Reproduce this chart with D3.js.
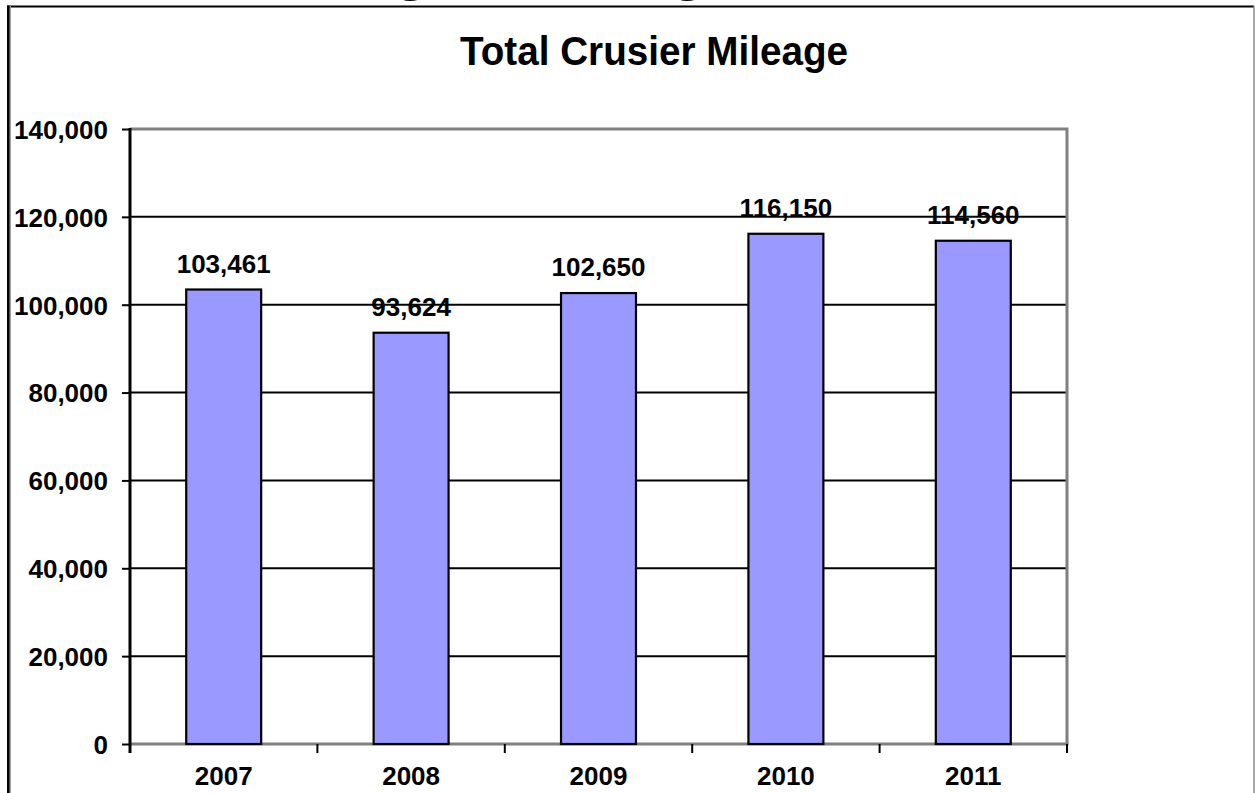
<!DOCTYPE html>
<html>
<head>
<meta charset="utf-8">
<script src="https://cdn.jsdelivr.net/npm/d3@7"></script>
<style>
  html, body { margin: 0; padding: 0; background: #ffffff; }
  svg { display: block; }
</style>
</head>
<body>
<svg id="chart" width="1255" height="793"></svg>
<script>
// Chart data
const years = ["2007", "2008", "2009", "2010", "2011"];
const mileage = [103461, 93624, 102650, 116150, 114560];
const yTicks = [0, 20000, 40000, 60000, 80000, 100000, 120000, 140000];
const chartTitle = "Total Crusier Mileage";
const pageHeading = "Cruiser Usage and Mileage";

const svg = d3.select("#chart");
const W = 1255, H = 793;
const plot = { left: 130, right: 1067, top: 129, bottom: 744 };
const sans = "'Liberation Sans', Arial, Helvetica, sans-serif";
const fmt = d3.format(",");

// Page heading above the frame (only its lower edge falls inside the page)
const heading = svg.append("text")
  .attr("x", 0).attr("y", -9)
  .attr("font-family", "'Liberation Serif', 'Times New Roman', serif")
  .attr("font-size", 46)
  .attr("fill", "#000")
  .text(pageHeading);
{
  const node = heading.node();
  const txt = pageHeading;
  const i1 = txt.indexOf("g"), i2 = txt.lastIndexOf("g");
  const c1 = node.getStartPositionOfChar(i1).x + node.getExtentOfChar(i1).width / 2;
  const c2 = node.getStartPositionOfChar(i2).x + node.getExtentOfChar(i2).width / 2;
  const L = node.getComputedTextLength();
  const s = (688 - 411) / (c2 - c1);
  heading.attr("textLength", L * s)
    .attr("lengthAdjust", "spacingAndGlyphs")
    .attr("x", 411 - c1 * s);
}

// Outer frame
svg.append("line").attr("x1", 7).attr("x2", 1254).attr("y1", 6.5).attr("y2", 6.5)
  .attr("stroke", "#000").attr("stroke-width", 2);
svg.append("line").attr("x1", 10.2).attr("x2", 10.2).attr("y1", 6).attr("y2", H)
  .attr("stroke", "#9a9a9a").attr("stroke-width", 1.5);
svg.append("line").attr("x1", 8.3).attr("x2", 8.3).attr("y1", 5.5).attr("y2", H)
  .attr("stroke", "#000").attr("stroke-width", 2.6);
svg.append("line").attr("x1", 1254).attr("x2", 1254).attr("y1", 6).attr("y2", H)
  .attr("stroke", "#8a8a8a").attr("stroke-width", 1.5);

// Title
svg.append("text")
  .attr("x", 460).attr("y", 65)
  .attr("font-family", sans).attr("font-weight", "bold")
  .attr("font-size", 41)
  .attr("textLength", 388).attr("lengthAdjust", "spacingAndGlyphs")
  .attr("fill", "#000")
  .text(chartTitle);

// Scales
const x = d3.scaleBand().domain(years).range([plot.left, plot.right])
  .paddingInner(0.6).paddingOuter(0.3);
const y = d3.scaleLinear().domain([0, 140000]).range([plot.bottom, plot.top]);

// Horizontal gridlines
svg.append("g").selectAll("line")
  .data(yTicks.filter(t => t > 0 && t < 140000))
  .join("line")
  .attr("x1", plot.left).attr("x2", plot.right)
  .attr("y1", d => y(d)).attr("y2", d => y(d))
  .attr("stroke", "#000").attr("stroke-width", 2);

// Plot area border (top and right, grey)
svg.append("path")
  .attr("d", `M${plot.left},${y(140000)}H${plot.right}V${plot.bottom}`)
  .attr("fill", "none").attr("stroke", "#808080").attr("stroke-width", 3);

// Category axis line (grey)
svg.append("line")
  .attr("x1", plot.left).attr("x2", plot.right + 1.5)
  .attr("y1", y(0)).attr("y2", y(0))
  .attr("stroke", "#808080").attr("stroke-width", 3);

// Bars
svg.append("g").selectAll("rect")
  .data(years.map((yr, i) => ({ yr, v: mileage[i] })))
  .join("rect")
  .attr("x", d => x(d.yr))
  .attr("width", x.bandwidth())
  .attr("y", d => y(d.v))
  .attr("height", d => y(0) - y(d.v))
  .attr("fill", "#9999ff")
  .attr("stroke", "#000").attr("stroke-width", 2.2);

// Value labels
svg.append("g").selectAll("text")
  .data(years.map((yr, i) => ({ yr, v: mileage[i] })))
  .join("text")
  .attr("x", d => x(d.yr) + x.bandwidth() / 2)
  .attr("y", d => y(d.v) - 17)
  .attr("text-anchor", "middle")
  .attr("font-family", sans).attr("font-weight", "bold").attr("font-size", 26)
  .attr("fill", "#000")
  .text(d => fmt(d.v));

// Category tick marks at band boundaries
const bounds = years.map(yr => x(yr) - x.step() * x.paddingInner() / 2).concat([plot.right]);
bounds[0] = plot.left;
svg.append("g").selectAll("line")
  .data(bounds)
  .join("line")
  .attr("x1", d => d).attr("x2", d => d)
  .attr("y1", y(0)).attr("y2", y(0) + 9)
  .attr("stroke", "#000").attr("stroke-width", 2);

// Category labels
svg.append("g").selectAll("text")
  .data(years)
  .join("text")
  .attr("x", d => x(d) + x.bandwidth() / 2)
  .attr("y", 785)
  .attr("text-anchor", "middle")
  .attr("font-family", sans).attr("font-weight", "bold").attr("font-size", 26)
  .attr("fill", "#000")
  .text(d => d);

// Value axis
const yAxis = svg.append("g").attr("transform", `translate(${plot.left},0)`)
  .call(d3.axisLeft(y).tickValues(yTicks).tickSize(8).tickPadding(14)
    .tickFormat(d => fmt(d)));
yAxis.select(".domain").remove();
yAxis.selectAll(".tick line").attr("stroke", "#000").attr("stroke-width", 2);
yAxis.selectAll(".tick text")
  .attr("font-family", sans).attr("font-weight", "bold").attr("font-size", 26)
  .attr("fill", "#000").attr("dy", "0.36em");
svg.append("line")
  .attr("x1", plot.left).attr("x2", plot.left)
  .attr("y1", plot.top - 1).attr("y2", y(0) + 9)
  .attr("stroke", "#000").attr("stroke-width", 3);
</script>
</body>
</html>
